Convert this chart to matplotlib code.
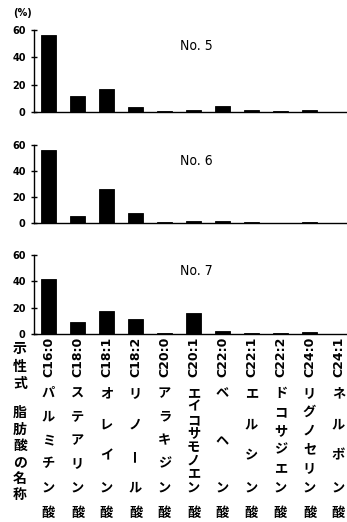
import matplotlib
matplotlib.use("Agg")
import matplotlib.pyplot as plt

categories = ["C16:0", "C18:0", "C18:1", "C18:2", "C20:0", "C20:1",
              "C22:0", "C22:1", "C22:2", "C24:0", "C24:1"]
names = ["パルミチン", "ステアリン", "オレイン", "リノール", "アラキジン",
         "エイコサモノエン", "ベヘン", "エルシン", "ドコサジエン", "リグノセリン", "ネルボン"]
no5 = [56.3, 11.9, 16.8, 3.4, 1.0, 1.5, 4.4, 1.5, 0.5, 1.2, 0.3]
no6 = [56.5, 5.5, 26.0, 8.0, 0.8, 1.2, 1.5, 1.0, 0.2, 0.8, 0.3]
no7 = [41.5, 9.0, 17.2, 11.2, 0.5, 16.0, 2.5, 0.4, 0.8, 1.2, 0.3]
panel_labels = ["No. 5", "No. 6", "No. 7"]
yticks = [0, 20, 40, 60]

W, H = 347, 522
fig = plt.figure(figsize=(W / 100, H / 100), dpi=100)
fig.patch.set_facecolor("white")

def fx(px):
    return px / W

def fy(py):
    return 1 - py / H

JP = ["Noto Sans CJK JP", "DejaVu Sans"]

# (top px of 60, bottom px of 0)
panel_px = [(30, 112), (145, 223), (255, 334)]
series = [no5, no6, no7]
x = list(range(len(categories)))
axes = []
for (top, bot), vals, lab in zip(panel_px, series, panel_labels):
    ax = fig.add_axes([fx(34), fy(bot), fx(347) - fx(34), (bot - top) / H])
    ax.bar(x, vals, width=0.52, color="black", edgecolor="black", linewidth=0.6)
    ax.set_xlim(-0.5, 10.29)
    ax.set_ylim(0, 60)
    ax.set_yticks(yticks)
    ax.set_yticklabels([str(t) for t in yticks], fontsize=7, fontweight="bold")
    ax.set_xticks([])
    for s in ["top", "right"]:
        ax.spines[s].set_visible(False)
    ax.spines["left"].set_linewidth(1.0)
    ax.spines["bottom"].set_linewidth(1.0)
    ax.tick_params(axis="y", direction="inout", length=4, width=1.0, pad=4)
    ax.text(0.52, 0.8, lab, transform=ax.transAxes, ha="center", va="center",
            fontsize=10, family="Liberation Sans Narrow" , fontstretch="condensed")
    axes.append(ax)

fig.text(fx(23), fy(13), "(%)", ha="center", va="center", fontsize=7, fontweight="bold")

# category labels (rotated)
ax3 = axes[2]
for i, c in enumerate(categories):
    px = 48.5 + 29 * i
    fig.text(fx(px), fy(337), c, rotation=90, ha="center", va="top",
             fontsize=9, fontweight="bold")

# left labels
for j, ch in enumerate("示性式"):
    fig.text(fx(20), fy(349 + 17.5 * j), ch, ha="center", va="center",
             fontsize=10, family=JP, fontweight="bold")
for j, ch in enumerate("脂肪酸の名称"):
    fig.text(fx(20), fy(413 + 16.5 * j), ch, ha="center", va="center",
             fontsize=10, family=JP, fontweight="bold")

# katakana names vertical
y0, y1 = 393, 487
for i, nm in enumerate(names):
    px = 48.5 + 29 * i
    n = len(nm)
    for k, ch in enumerate(nm):
        yy = y0 + (y1 - y0) * k / (n - 1)
        rot = 90 if ch == "ー" else 0
        fig.text(fx(px), fy(yy), ch, ha="center", va="center", rotation=rot,
                 fontsize=9.5, family=JP, fontweight="bold")
    fig.text(fx(px), fy(513), "酸", ha="center", va="center",
             fontsize=9.5, family=JP, fontweight="bold")

fig.savefig("out.png", dpi=100, facecolor="white")
